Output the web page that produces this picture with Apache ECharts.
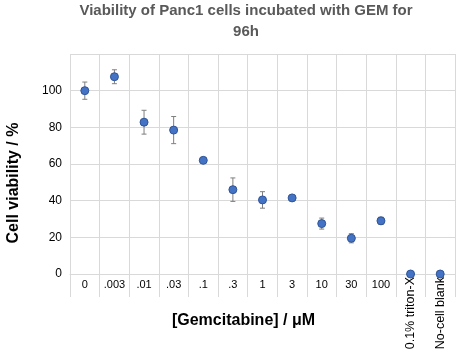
<!DOCTYPE html>
<html>
<head>
<meta charset="utf-8">
<script src="https://cdn.jsdelivr.net/npm/echarts@6/dist/echarts.min.js"></script>
<style>
  html, body { margin: 0; padding: 0; background: #fff; }
  #chart { width: 459px; height: 358px; }
</style>
</head>
<body>
<div id="chart"></div>
<script>
// Panc1 viability after 96h GEM, mean ± error per concentration
const categories = ['0', '.003', '.01', '.03', '.1', '.3', '1', '3', '10', '30', '100', '0.1% triton-X', 'No-cell blank'];
const viability = [100, 107.6, 82.8, 78.5, 62, 46, 40.4, 41.5, 27.5, 19.5, 29, 0, 0];
const errors = [4.7, 3.8, 6.5, 7.4, 0.8, 6.4, 4.5, 1, 3, 2.5, 2, 0.5, 0.5];
const yTicks = [0, 20, 40, 60, 80, 100];
const ROTATED_FROM = 11; // controls get vertical labels

const FONT = 'Liberation Sans';
const chart = echarts.init(document.getElementById('chart'));

const errData = viability.map((v, i) => [i, v - errors[i], v + errors[i]]);

function renderErr(params, api) {
  const i = api.value(0);
  const lo = api.coord([i, api.value(1)]);
  const hi = api.coord([i, api.value(2)]);
  const cap = 2.5;
  const style = { stroke: '#7f7f7f', lineWidth: 1 };
  return {
    type: 'group',
    children: [
      { type: 'line', shape: { x1: lo[0], y1: lo[1], x2: hi[0], y2: hi[1] }, style },
      { type: 'line', shape: { x1: lo[0] - cap, y1: lo[1], x2: lo[0] + cap, y2: lo[1] }, style },
      { type: 'line', shape: { x1: hi[0] - cap, y1: hi[1], x2: hi[0] + cap, y2: hi[1] }, style },
    ],
  };
}

const gridColor = '#d9d9d9';

chart.setOption({
  animation: false,
  backgroundColor: '#fff',
  title: {
    text: 'Viability of Panc1 cells incubated with GEM for\n96h',
    left: 246, top: 0, padding: 0, textAlign: 'center',
    textStyle: { fontFamily: FONT, fontSize: 15, fontWeight: 'bold', color: '#595959', lineHeight: 21 },
  },
  grid: { left: 70, right: 4, top: 54, bottom: 84, outerBoundsMode: 'none' },
  xAxis: [{
    type: 'category', data: categories,
    axisLine: { lineStyle: { color: gridColor } },
    // boundary ticks double as the grid lines that run below zero
    axisTick: { show: true, interval: 0, length: 23, lineStyle: { color: gridColor } },
    splitLine: { show: true, interval: 0, lineStyle: { color: gridColor } },
    axisLabel: {
      interval: 0, margin: 5, color: '#000', fontFamily: FONT, fontSize: 11,
      formatter: (v, i) => i < ROTATED_FROM ? v : '',
    },
    name: '[Gemcitabine] / μM', nameLocation: 'middle', nameGap: 39,
    nameTextStyle: { fontFamily: FONT, fontSize: 16, fontWeight: 'bold', color: '#000', padding: [0, 38, 0, 0] },
  }, {
    type: 'category', data: categories, position: 'bottom',
    axisLine: { show: false },
    axisTick: { show: false },
    splitLine: { show: false },
    axisLabel: {
      interval: 0, rotate: 90, margin: 3, color: '#000', fontFamily: FONT, fontSize: 12.5,
      formatter: (v, i) => i >= ROTATED_FROM ? v : '',
    },
  }],
  yAxis: {
    type: 'value', min: 0, max: 120, interval: 20,
    axisLine: { show: false },
    axisTick: { show: false },
    splitLine: { show: true, lineStyle: { color: gridColor } },
    axisLabel: {
      color: '#000', fontFamily: FONT, fontSize: 12, margin: 8,
      formatter: v => yTicks.includes(v) ? String(v) : '',
    },
    name: 'Cell viability / %', nameLocation: 'middle', nameGap: 48,
    nameTextStyle: { fontFamily: FONT, fontSize: 16, fontWeight: 'bold', color: '#000', padding: [0, 38, 0, 0] },
  },
  series: [{
    type: 'custom', renderItem: renderErr, data: errData, xAxisIndex: 0, z: 2,
  }, {
    type: 'scatter', data: viability, xAxisIndex: 0, symbolSize: 8, z: 3, clip: false,
    itemStyle: { color: '#4472c4', borderColor: '#2f5597', borderWidth: 1, opacity: 1 },
  }],
});
</script>
</body>
</html>
